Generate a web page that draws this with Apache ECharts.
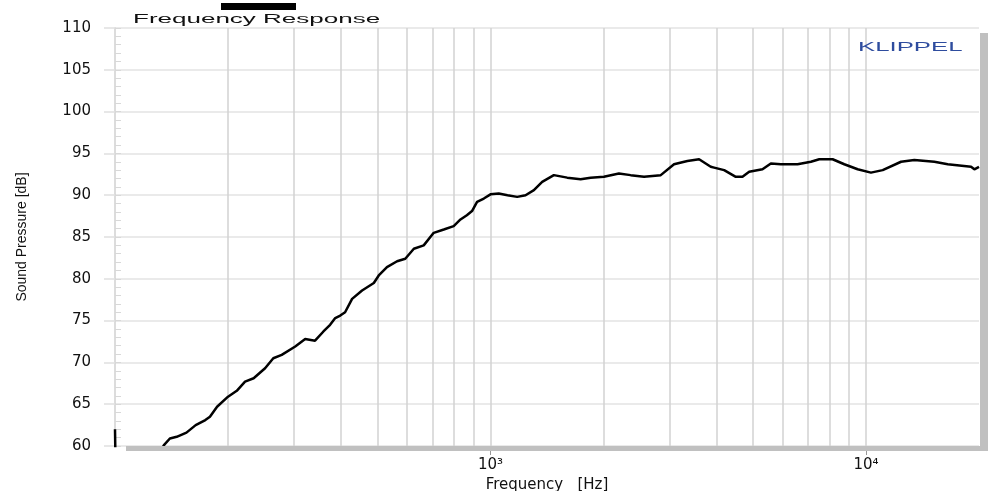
<!DOCTYPE html>
<html>
<head>
<meta charset="utf-8">
<script src="https://cdn.jsdelivr.net/npm/echarts@6/dist/echarts.min.js"></script>
<style>html,body{margin:0;padding:0;background:#fff;overflow:hidden}#c{width:989px;height:491px}</style>
</head>
<body>
<div id="c"></div>
<script>
// Frequency axis (Hz) and sound pressure (dB)
const freq = [100, 100.4, 110, 125, 135, 140, 146, 155, 164, 174, 179, 187, 200, 211, 222, 234, 251, 264, 278, 302,
  321, 341, 359, 374, 386, 398, 410, 428, 455, 489, 504, 530, 564, 593, 625, 664, 706, 751, 798, 832,
  865, 893, 921, 960, 1000, 1052, 1110, 1178, 1240, 1305, 1373, 1475, 1601, 1738, 1848, 2005, 2198, 2362, 2564, 2841,
  3082, 3345, 3594, 3860, 3941, 4191, 4501, 4690, 4886, 5302, 5581, 5933, 6573, 7134, 7510, 8150, 8755, 9502, 10310, 11080,
  12400, 13450, 15210, 16510, 19050, 19440, 20000];
const spl = [62, 57, 55.5, 57.5, 60.1, 60.9, 61.1, 61.6, 62.5, 63.1, 63.5, 64.7, 65.9, 66.6, 67.7, 68.1, 69.3, 70.5, 70.9, 71.9,
  72.8, 72.6, 73.7, 74.5, 75.3, 75.6, 76.0, 77.6, 78.6, 79.5, 80.4, 81.4, 82.1, 82.4, 83.6, 84.0, 85.5, 85.9, 86.3, 87.1,
  87.6, 88.1, 89.2, 89.6, 90.1, 90.2, 90.0, 89.8, 90.0, 90.6, 91.6, 92.4, 92.1, 91.9, 92.1, 92.2, 92.6, 92.4, 92.2, 92.4,
  93.7, 94.1, 94.3, 93.4, 93.3, 93.0, 92.2, 92.2, 92.8, 93.1, 93.8, 93.7, 93.7, 94.0, 94.3, 94.3, 93.7, 93.1, 92.7, 93.0,
  94.0, 94.2, 94.0, 93.7, 93.4, 93.1, 93.4];
// vertical grid lines (Hz)
const gridFreqs = [200, 300, 400, 500, 600, 700, 800, 900, 2000, 3000, 4000, 5000, 6000, 7000, 8000, 9000];
// x ticks and their labels
const xTicks = [1000, 10000];
const xTickLabels = {1000: '10³', 10000: '10⁴'};
const titleText = 'Frequency Response';
const brandText = 'KLIPPEL';
const xName = 'Frequency   [Hz]';
const yName = 'Sound Pressure [dB]';

const chart = echarts.init(document.getElementById('c'), null, {renderer: 'canvas'});
const labelFont = "'DejaVu Sans', sans-serif";
chart.setOption({
  animation: false,
  backgroundColor: '#fff',
  grid: {left: 115, right: 10, top: 28, bottom: 45, containLabel: false, outerBoundsMode: 'none'},
  xAxis: {
    type: 'log', logBase: 10, min: 100, max: 20000,
    name: xName, nameLocation: 'middle', nameGap: 24,
    nameTextStyle: {fontFamily: labelFont, fontSize: 15, color: '#111'},
    axisLine: {show: false},
    axisTick: {show: true, length: 9, customValues: xTicks, lineStyle: {color: '#999', width: 1}},
    axisLabel: {
      margin: 12, fontFamily: labelFont, fontSize: 15, color: '#111', customValues: xTicks,
      formatter: v => xTickLabels[Math.round(v)] || ''
    },
    splitLine: {show: true, lineStyle: {color: '#d2d2d2', width: 1.5}},
    minorTick: {show: false}, minorSplitLine: {show: false}
  },
  yAxis: [{
    type: 'value', min: 60, max: 110, interval: 5, position: 'left',
    name: yName, nameLocation: 'middle', nameGap: 86, nameRotate: 90,
    nameTextStyle: {fontFamily: "'Liberation Sans Narrow', 'Liberation Sans', sans-serif", fontSize: 14, color: '#111'},
    axisLine: {show: true, lineStyle: {color: '#d0d0d0', width: 1.5}},
    axisTick: {show: true, length: 11, lineStyle: {color: '#e0e0e0', width: 1.5}},
    axisLabel: {margin: 24, fontFamily: labelFont, fontSize: 15, color: '#111'},
    splitLine: {show: true, lineStyle: {color: '#e3e3e3', width: 1.5}}
  }, {
    type: 'value', min: 60, max: 110, interval: 1, position: 'left', offset: 0,
    axisLine: {show: false},
    axisTick: {show: true, inside: true, length: 6, lineStyle: {color: '#d8d8d8', width: 1}},
    axisLabel: {show: false},
    splitLine: {show: false}
  }],
  series: [{
    type: 'line', xAxisIndex: 0, yAxisIndex: 0, z: 1, silent: true,
    data: [],
    markLine: {
      silent: true, symbol: ['none', 'none'], label: {show: false},
      lineStyle: {type: 'solid', color: '#d2d2d2', width: 1.5},
      data: gridFreqs.map(f => ({xAxis: f}))
    }
  }, {
    type: 'line', xAxisIndex: 0, yAxisIndex: 0, z: 5,
    data: freq.map((f, i) => [f, spl[i]]),
    showSymbol: false, clip: true, smooth: false,
    lineStyle: {color: '#000', width: 2.5}
  }],
  graphic: [
    {type: 'rect', z: 10, shape: {x: 126, y: 446, width: 862, height: 5}, style: {fill: '#c0c0c0'}},
    {type: 'rect', z: 10, shape: {x: 980, y: 33, width: 8, height: 418}, style: {fill: '#c0c0c0'}},
    {type: 'rect', z: 10, shape: {x: 221, y: 3, width: 75, height: 7}, style: {fill: '#000'}},
    {type: 'text', z: 10, x: 133, y: 19.5, scaleX: 2.0, scaleY: 1,
     style: {text: titleText, font: "13px 'Liberation Sans', sans-serif", fill: '#111', textAlign: 'left', textVerticalAlign: 'middle'}},
    {type: 'text', z: 10, x: 858, y: 47.5, scaleX: 1.98, scaleY: 1,
     style: {text: brandText, font: "13px 'Liberation Sans', sans-serif", fill: '#2e4c9e', textAlign: 'left', textVerticalAlign: 'middle'}}
  ]
});
</script>
</body>
</html>
